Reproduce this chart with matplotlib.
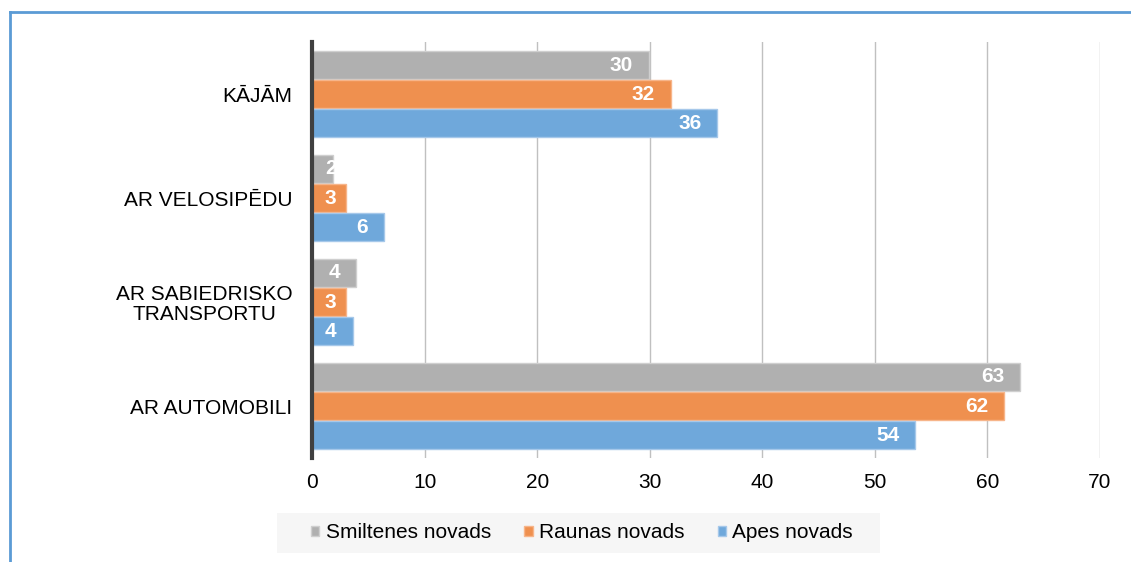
import matplotlib.pyplot as plt
from matplotlib.patches import Patch, Rectangle
from matplotlib.lines import Line2D

plt.rcParams['font.family'] = ['Liberation Sans', 'DejaVu Sans']

categories = ["KĀJĀM", "AR VELOSIPĒDU", "AR SABIEDRISKO\nTRANSPORTU", "AR AUTOMOBILI"]
series = ["Smiltenes novads", "Raunas novads", "Apes novads"]
smiltene = [29.9, 1.9, 3.9, 62.9]
rauna = [31.9, 3.0, 3.0, 61.5]
ape = [36.0, 6.4, 3.6, 53.6]
colors = ["#b0b0b0", "#ef904f", "#6fa8db"]
edges = ["#cfcfcf", "#f7b58a", "#a6c8ea"]

fig = plt.figure(figsize=(11.31, 5.62), dpi=100)
ax = fig.add_axes([0.2759, 0.185, 0.6967, 0.74])

h = 0.27
offsets = [-0.28, 0.0, 0.28]
for vals, off, c, ec, name in zip([smiltene, rauna, ape], offsets, colors, edges, series):
    ys = [i + off for i in range(len(categories))]
    ax.barh(ys, vals, height=h, color=c, edgecolor=ec, linewidth=1, label=name, zorder=3)
    for y, v in zip(ys, vals):
        ax.annotate(f"{v:.0f}", xy=(max(v, 3.6), y), xytext=(-11.5, 0),
                    textcoords="offset points", ha="right", va="center",
                    color="white", fontsize=15, fontweight="bold", zorder=4)

ax.set_xlim(0, 70)
ax.set_ylim(3.5, -0.5)
ax.set_xticks(range(0, 71, 10))
ax.set_yticks(range(len(categories)))
ax.set_yticklabels(categories, fontsize=15, linespacing=1.05, multialignment="center")
ax.tick_params(axis="x", labelsize=15, length=0, pad=11)
ax.tick_params(axis="y", length=0, pad=14)
ax.grid(axis="x", color="#c0c0c0", linewidth=1, zorder=0)
for s in ["top", "right", "bottom"]:
    ax.spines[s].set_visible(False)
ax.spines["left"].set_color("#404040")
ax.spines["left"].set_linewidth(3)
ax.spines["left"].set_zorder(5)

# legend background
fig.add_artist(Rectangle((277 / 1131, 1 - 553 / 562), 603 / 1131, 40 / 562,
                         transform=fig.transFigure, facecolor="#f6f6f6",
                         edgecolor="none", zorder=0))
handles = [Patch(facecolor=c, edgecolor=ec) for c, ec in zip(colors, edges)]
fig.legend(handles, series, loc="center", bbox_to_anchor=(582 / 1131, 1 - 533 / 562),
           ncol=3, frameon=False, fontsize=15, handlelength=0.4, handleheight=0.4,
           handletextpad=0.3, columnspacing=1.6)

# outer frame
fig.add_artist(Line2D([9.5 / 1131, 9.5 / 1131], [0, 1 - 12 / 562], color="#5b9bd5", linewidth=2))
fig.add_artist(Line2D([9.5 / 1131, 1], [1 - 12 / 562, 1 - 12 / 562], color="#5b9bd5", linewidth=2))

fig.savefig("out.png", dpi=100)
